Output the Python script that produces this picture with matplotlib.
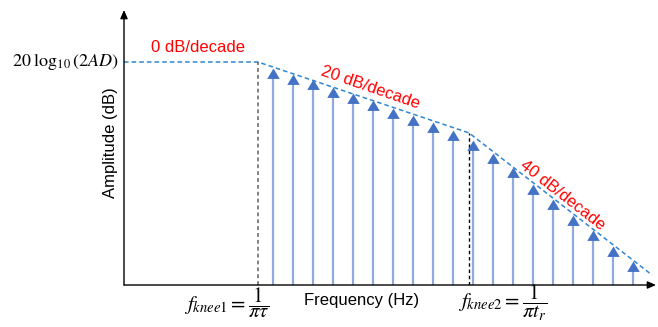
import numpy as np
import matplotlib
matplotlib.use("Agg")
import matplotlib.pyplot as plt
from matplotlib.path import Path

plt.rcParams['font.family'] = ['Liberation Sans', 'DejaVu Sans']
plt.rcParams['mathtext.fontset'] = 'stix'

# harmonic positions (x in arbitrary freq units) and amplitudes (arbitrary dB units)
harm_x = [7.45 + k for k in range(19)]
harm_amp = [97.4, 94.5, 92.2, 88.7, 86.0, 83.0, 79.2, 76.2, 73.0, 69.5,
            65.2, 59.1, 52.8, 45.3, 38.6, 31.4, 24.7, 17.5, 10.8]

# asymptotic envelope
env_x = [0, 6.7, 17.25, 26.4]
env_y = [100, 100, 68.2, 4.5]
knee1, knee2 = 6.7, 17.25
top_level = 100

W, H = 658, 327
fig = plt.figure(figsize=(W / 100, H / 100), dpi=100)
ax = fig.add_axes([124 / W, (H - 285) / H, (656 - 124) / W, (285 - 10) / H])
ax.set_xlim(0, (656 - 124) / 20)
ax.set_ylim(0, (285 - 10) / 2.23)
for s in ax.spines.values():
    s.set_visible(False)
ax.set_xticks([])
ax.set_yticks([])

# axes with arrow heads
arrow = dict(arrowstyle="-|>,head_length=0.5,head_width=0.22", color="black",
             lw=1.0, shrinkA=0, shrinkB=0)
ax.annotate("", xy=(1, 0), xytext=(0, 0), xycoords="axes fraction",
            arrowprops=arrow, annotation_clip=False)
ax.annotate("", xy=(0, 1), xytext=(0, 0), xycoords="axes fraction",
            arrowprops=arrow, annotation_clip=False)

# envelope
ax.plot(env_x, env_y, ls=(0, (3, 2)), color="#2E86D1", lw=1.1, clip_on=False)

# knee markers
ax.plot([knee1, knee1], [0, top_level], ls=(0, (2.5, 2)), color="#606060", lw=1.1)
ax.plot([knee2, knee2], [0, env_y[2]], ls=(0, (2.5, 2)), color="black", lw=1.0)

# harmonics: stems + triangle heads (tip at value)
tri = Path([(0, 0), (-0.6, -1), (0.6, -1), (0, 0)],
           [Path.MOVETO, Path.LINETO, Path.LINETO, Path.CLOSEPOLY])
for x, a in zip(harm_x, harm_amp):
    ax.plot([x, x], [0, a - 2], color="#8FAADC", lw=1.6, solid_capstyle="butt")
ax.plot(harm_x, harm_amp, ls="none", marker=tri, markersize=15,
        color="#4472C4", markeredgewidth=0)

# labels
red = "#FF0000"
fig.text(198 / W, 1 - 47 / H, "0 dB/decade", color=red, fontsize=12,
         ha="center", va="center")
fig.text(370 / W, 1 - 88 / H, "20 dB/decade", color=red, fontsize=12,
         ha="center", va="center", rotation=-19)
fig.text(562 / W, 1 - 195 / H, "40 dB/decade", color=red, fontsize=12,
         ha="center", va="center", rotation=-38)

fig.text(119 / W, 1 - 62 / H, r"$20\;\log_{10}(2AD)$", fontsize=13,
         ha="right", va="center")
fig.text(110 / W, 1 - 143 / H, "Amplitude (dB)", fontsize=12,
         ha="center", va="center", rotation=90)
fig.text(362 / W, 1 - 301 / H, "Frequency (Hz)", fontsize=12,
         ha="center", va="center")
fig.text(227 / W, 1 - 303 / H, r"$f_{knee1}=\dfrac{1}{\pi\tau}$", fontsize=15,
         ha="center", va="center")
fig.text(503 / W, 1 - 303 / H, r"$f_{knee2}=\dfrac{1}{\pi t_r}$", fontsize=15,
         ha="center", va="center")

fig.savefig("out.png", dpi=100)
plt.close(fig)
